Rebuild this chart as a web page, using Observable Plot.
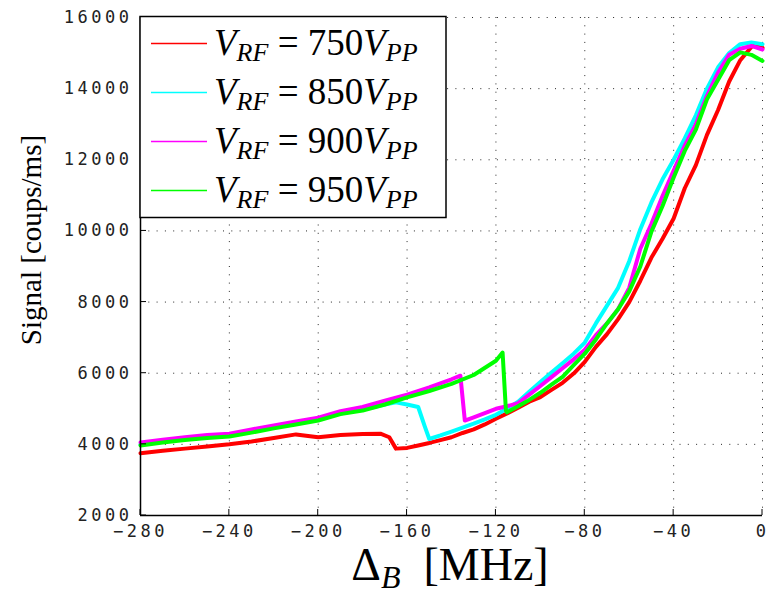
<!DOCTYPE html>
<html><head><meta charset="utf-8">
<script src="https://cdn.jsdelivr.net/npm/d3@7"></script>
<script src="https://cdn.jsdelivr.net/npm/@observablehq/plot@0.6"></script>
<style>
html,body{margin:0;padding:0;background:#fff;}
#chart{position:relative;width:768px;height:596px;}
.serif, .serif tspan{font-family:"Liberation Serif","Times New Roman",Times,serif !important;}
</style>
</head><body><div id="chart"></div>
<script>
// ---- data (Δ_B in MHz, signal in counts/ms) ----
const x750 = [-280,-270,-260,-250,-240,-230,-220,-210,-200,-190,-180,-172,-168,-165,-160,-155,-150,-145,-140,-135,-130,-125,-120,-115,-110,-105,-100,-95,-90,-85,-80,-75,-70,-65,-60,-55,-50,-45,-40,-35,-30,-25,-20,-15,-10,-5,-2,0];
const y750 = [3750,3820,3880,3940,4000,4080,4180,4280,4200,4260,4290,4300,4200,3880,3900,3970,4040,4120,4200,4320,4420,4560,4720,4870,5030,5200,5330,5530,5730,5990,6320,6740,7100,7520,8000,8600,9250,9780,10350,11200,11850,12700,13400,14200,14800,15170,15250,15150];

const x850 = [-280,-270,-260,-250,-240,-230,-220,-210,-200,-190,-180,-170,-165,-160,-155,-152,-150,-145,-140,-135,-130,-125,-120,-115,-110,-105,-100,-95,-90,-85,-80,-75,-70,-65,-60,-55,-50,-45,-40,-35,-30,-25,-20,-15,-10,-5,0];
const y850 = [4000,4090,4160,4220,4270,4380,4490,4600,4700,4870,4980,5120,5180,5120,5050,4500,4150,4250,4360,4470,4580,4700,4830,5000,5200,5480,5750,6020,6280,6550,6860,7400,7900,8400,9150,10050,10800,11450,12000,12600,13250,14000,14600,15000,15250,15300,15250];

const x900 = [-280,-270,-260,-250,-240,-230,-220,-210,-200,-190,-180,-170,-160,-150,-140,-136,-134,-130,-125,-120,-115,-110,-105,-100,-95,-90,-85,-80,-75,-70,-65,-60,-55,-50,-45,-40,-35,-30,-25,-20,-15,-10,-5,0];
const y900 = [4050,4130,4200,4260,4300,4420,4530,4640,4750,4930,5050,5230,5400,5600,5830,5930,4670,4760,4880,5000,5070,5160,5400,5640,5890,6140,6390,6660,7070,7400,7800,8400,9500,10200,10980,11700,12400,13000,13800,14450,14950,15120,15200,15100];

const x950 = [-280,-270,-260,-250,-240,-230,-220,-210,-200,-190,-180,-170,-160,-150,-140,-130,-120,-117,-115.5,-115,-110,-105,-100,-95,-90,-85,-80,-75,-70,-65,-60,-55,-50,-45,-40,-35,-30,-25,-20,-15,-10,-5,0];
const y950 = [3970,4050,4120,4180,4220,4330,4450,4560,4670,4850,4950,5120,5320,5500,5700,5950,6350,6580,4950,4900,5070,5250,5450,5680,5900,6230,6550,6950,7400,7800,8300,9000,9980,10700,11500,12250,12850,13700,14250,14800,15020,14950,14780];

const seriesNames = ["750", "850", "900", "950"];
const seriesColors = ["#ff0000", "#00ffff", "#ff00ff", "#00ff00"];
const xTicks = [-280,-240,-200,-160,-120,-80,-40,0];
const yTicks = [2000,4000,6000,8000,10000,12000,14000,16000];

const xs = [x750, x850, x900, x950];
const ys = [y750, y850, y900, y950];
const rows = seriesNames.map((n, k) => xs[k].map((x, i) => ({s: n, x, y: ys[k][i]})));

const fmt = d => d < 0 ? "\u2212" + (-d) : String(d);
const tickFont = "DejaVu Sans Mono, monospace";
const grid = {stroke: "#000", strokeOpacity: 0.85, strokeWidth: 1, strokeDasharray: "1,7.3"};

const chart = Plot.plot({
  width: 768, height: 596,
  marginLeft: 140, marginRight: 6, marginTop: 17, marginBottom: 81,
  style: {background: "#fff", color: "#222"},
  x: {domain: [-280, 0]},
  y: {domain: [2000, 16000]},
  marks: [
    Plot.gridX(xTicks, grid),
    Plot.gridY(yTicks, grid),
    ...rows.map((r, k) => Plot.line(r, {x: "x", y: "y", stroke: seriesColors[k], strokeWidth: 4, strokeLinejoin: "round"})),
    Plot.axisX(xTicks, {tickSize: 0, tickPadding: 9, tickFormat: fmt, fontSize: 17, fontFamily: tickFont, label: null}),
    Plot.axisY(yTicks, {tickSize: 0, tickPadding: 8, tickFormat: fmt, fontSize: 17, fontFamily: tickFont, label: null}),
    Plot.ruleX([-280], {stroke: "#000", strokeWidth: 1.5}),
    Plot.ruleY([2000], {stroke: "#000", strokeWidth: 1.5})
  ]
});
document.getElementById("chart").appendChild(chart);

const svg = d3.select(chart);
svg.selectAll("g[aria-label='x-axis tick label'] text, g[aria-label='y-axis tick label'] text").attr("letter-spacing", "3.5px");
const sx = chart.scale("x"), sy = chart.scale("y");
const X = v => sx.apply(v), Y = v => sy.apply(v);

// inward ticks
const tk = svg.append("g").attr("stroke", "#000").attr("stroke-width", 1);
xTicks.forEach(t => tk.append("line").attr("x1", X(t)).attr("x2", X(t)).attr("y1", Y(2000)).attr("y2", Y(2000) - 6));
yTicks.forEach(t => tk.append("line").attr("x1", X(-280)).attr("x2", X(-280) + 6).attr("y1", Y(t)).attr("y2", Y(t)));

// axis titles
const xl = svg.append("text").attr("class", "serif").attr("x", 450).attr("y", 580).attr("text-anchor", "middle")
  .attr("font-size", 46).attr("fill", "#000");
xl.append("tspan").text("\u0394");
xl.append("tspan").style("font-style", "italic").attr("font-size", 32).attr("dy", 8).text("B");
xl.append("tspan").attr("dy", -8).text("\u2002[MHz]");

svg.append("text").attr("class", "serif").attr("transform", "translate(41,240) rotate(-90)").attr("text-anchor", "middle")
  .attr("font-size", 29).attr("fill", "#000").text("Signal [coups/ms]");

// legend
const lg = svg.append("g");
lg.append("rect").attr("x", 140).attr("y", 16.5).attr("width", 306).attr("height", 201)
  .attr("fill", "#fff").attr("stroke", "#000").attr("stroke-width", 1.5);
seriesNames.forEach((n, k) => {
  const cy = 43.5 + k * 49;
  lg.append("line").attr("x1", 151).attr("x2", 207).attr("y1", cy).attr("y2", cy)
    .attr("stroke", seriesColors[k]).attr("stroke-width", 1.5);
  const t = lg.append("text").attr("class", "serif").attr("x", 214).attr("y", cy + 11).attr("text-anchor", "start")
    .attr("font-size", 37).attr("fill", "#000");
  t.append("tspan").style("font-style", "italic").text("V");
  t.append("tspan").style("font-style", "italic").attr("font-size", 26).attr("dy", 6).text("RF");
  t.append("tspan").attr("dy", -6).text(" = " + n);
  t.append("tspan").style("font-style", "italic").text("V");
  t.append("tspan").style("font-style", "italic").attr("font-size", 26).attr("dy", 6).text("PP");
});
</script></body></html>
